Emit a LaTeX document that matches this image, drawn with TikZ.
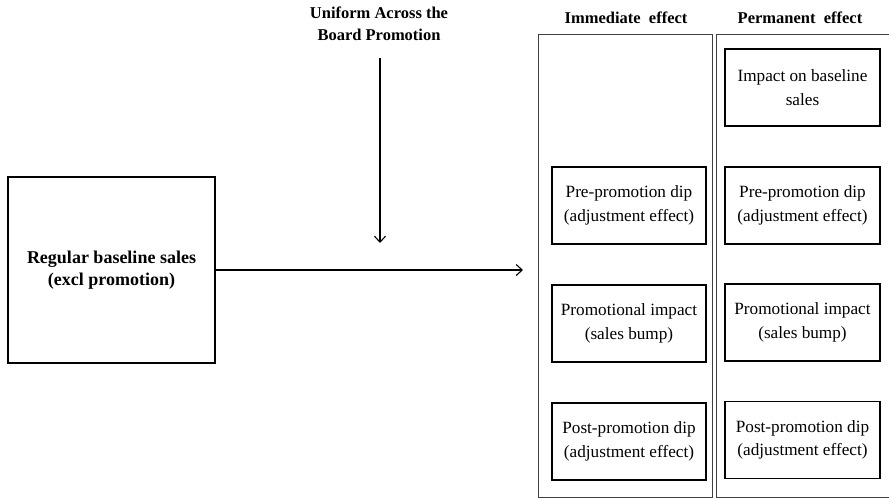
\documentclass[tikz,border=0pt]{standalone}
\usepackage{fontspec}
\setmainfont{Liberation Serif}
\usetikzlibrary{arrows.meta}
\tikzset{
  ibox/.style={draw=black, line width=1.6pt, minimum width=154pt, minimum height=77pt,
    align=center, inner sep=0pt, font=\fontsize{17.2}{23.5}\selectfont},
  mainbox/.style={draw=black, line width=1.6pt, minimum width=207pt, minimum height=186pt,
    align=center, inner sep=0pt, font=\fontsize{18}{22}\selectfont\bfseries},
  head/.style={align=center, inner sep=0pt, font=\fontsize{16.5}{22}\selectfont\bfseries},
  container/.style={draw=black!75, line width=0.9pt},
  arr/.style={draw=black, line width=1.1pt, -{Straight Barb[length=6pt,width=11pt,line width=1.1pt]}}
}
\begin{document}
\begin{tikzpicture}[x=1pt,y=-1pt]
\useasboundingbox (0,0) rectangle (889,499);
% containers
\draw[container] (538,34) rectangle (712,497);
\draw[container] (889,34) -- (716,34) -- (716,497) -- (889,497);
% headings
\node[head] (title) at (379,24) {Uniform Across the\\Board Promotion};
\node[head] (himm) at (626,18) {Immediate\ \ effect};
\node[head] (hperm) at (800,18) {Permanent\ \ effect};
% main box
\node[mainbox] (main) at (111.5,270) {Regular baseline sales\\(excl promotion)};
% immediate column
\node[ibox] (ipre) at (629,205.5) {Pre-promotion dip\\(adjustment effect)};
\node[ibox] (ipromo) at (629,323.5) {Promotional impact\\(sales bump)};
\node[ibox] (ipost) at (629,441.5) {Post-promotion dip\\(adjustment effect)};
% permanent column
\node[ibox, minimum width=155pt] (pbase) at (802.5,87.5) {Impact on baseline\\sales};
\node[ibox, minimum width=155pt] (ppre) at (802.5,205.5) {Pre-promotion dip\\(adjustment effect)};
\node[ibox, minimum width=155pt] (ppromo) at (802.5,322.5) {Promotional impact\\(sales bump)};
\node[ibox, minimum width=155pt] (ppost) at (802.5,440) {Post-promotion dip\\(adjustment effect)};
% arrows
\coordinate (vstart) at (380,58);
\coordinate (vend) at (380,243);
\coordinate (hend) at (523,270);
\draw[arr] (vstart) -- (vend);
\draw[arr] (main.east) -- (hend);
\end{tikzpicture}
\end{document}
